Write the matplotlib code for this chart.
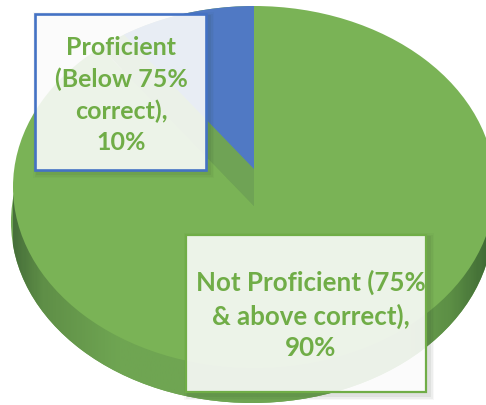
import numpy as np
import matplotlib
matplotlib.use("Agg")
import matplotlib.pyplot as plt
from matplotlib.patches import Rectangle
from matplotlib.path import Path
from matplotlib.transforms import Affine2D
from matplotlib.colors import LinearSegmentedColormap

labels = ["Not Proficient (75%\n& above correct),\n90%", "Proficient\n(Below 75%\ncorrect),\n10%"]
values = [90, 10]

W, H = 486, 406
CX, CY, RX, RY = 254, 188, 241, 181
GREEN, BLUE, WALL = "#7ab356", "#5079c4", "#6fa355"
TXT = "#70ad47"

def nx(x): return (x - CX) / RX
def ny(y): return (CY - y) / RY

fig = plt.figure(figsize=(W / 100, H / 100), dpi=100, facecolor="white")
ax = fig.add_axes([0, 0, 1, 1])

# side wall: lower copy of the pie with a horizontal shading
base_c = (nx(CX - 2), ny(CY + 35))
ax.pie([sum(values)], colors=["#6fa552"], center=base_c, radius=1.0, startangle=90,
       wedgeprops=dict(linewidth=0, zorder=1), frame=False)
shade = LinearSegmentedColormap.from_list(
    "s", [(0, "#47703a"), (0.06, "#5f8f47"), (0.22, "#6fa552"), (0.80, "#6fa552"), (0.92, "#5c8f45"), (1, "#3f6a34")])
im = ax.imshow(np.linspace(0, 1, 300)[None, :], cmap=shade, aspect="auto", zorder=1,
               extent=(nx(13), nx(490), ny(420), ny(0)))

# top face: clockwise from 12 o'clock, the 90% slice first
w1, _ = ax.pie(values, colors=[GREEN, WALL], center=(0, ny(207)), radius=1.3, startangle=90,
               counterclock=False, wedgeprops=dict(linewidth=0, zorder=2), frame=False)
w2, _ = ax.pie(values, colors=["none", BLUE], center=(0, ny(170)), radius=1.3, startangle=90,
               counterclock=False, wedgeprops=dict(linewidth=0, zorder=3), frame=False)

ax.set_aspect("auto")
ax.set_xlim(nx(0), nx(W))
ax.set_ylim(ny(H), ny(0))
ax.axis("off")

circle = Path.unit_circle()
im.set_clip_path(circle, Affine2D().translate(*base_c) + ax.transData)
for w in list(w1) + list(w2):
    w.set_clip_on(True)
    w.set_clip_path(circle, ax.transData)

def box(x0, y0, x1, y1, edge, text, tx, ty, lw, fs, ls):
    for i, a in enumerate([0.03, 0.05, 0.07]):
        g = 5 - i * 1.5
        ax.add_patch(Rectangle((nx(x0 + 3 - g), ny(y1 + 3 + g)), (x1 - x0 + 2 * g) / RX, (y1 - y0 + 2 * g) / RY,
                               facecolor="#2f3f2a", alpha=a, linewidth=0, zorder=4))
    ax.add_patch(Rectangle((nx(x0), ny(y1)), (x1 - x0) / RX, (y1 - y0) / RY, facecolor="white",
                           alpha=0.88, linewidth=0, zorder=5))
    ax.add_patch(Rectangle((nx(x0), ny(y1)), (x1 - x0) / RX, (y1 - y0) / RY, fill=False, edgecolor=edge,
                           linewidth=lw, zorder=6))
    ax.text(nx(tx), ny(ty), text, ha="center", va="center", color=TXT, family="Lato",
            fontweight="bold", fontsize=fs, linespacing=ls, zorder=7)

box(35, 15, 206, 171, "#4472c4", labels[1], 121, 95, 1.9, 18, 1.44)
box(186, 236, 426, 393, "#70ad47", labels[0], 311, 315, 1.6, 18.6, 1.38)

fig.savefig("out.png", dpi=100, facecolor="white")
